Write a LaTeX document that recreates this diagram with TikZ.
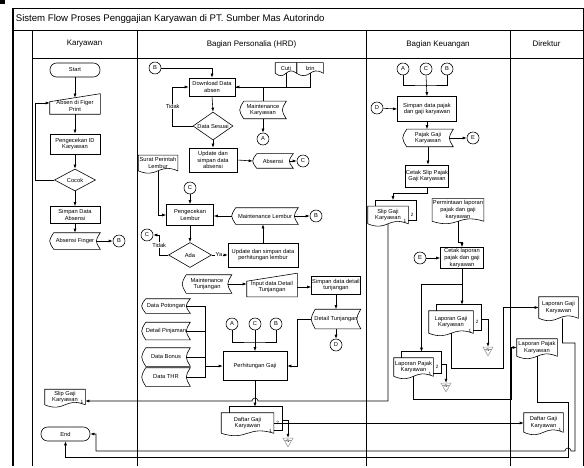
\documentclass[tikz,border=0pt]{standalone}
\usepackage{fontspec}
\setmainfont{Liberation Sans}
\usetikzlibrary{arrows.meta,positioning,shapes.geometric,calc}

\begin{document}
\begin{tikzpicture}[x=0.3mm, y=-0.3mm, >={Latex[length=1.2mm,width=0.9mm]},
    line width=0.5pt,
    every node/.style={font=\fontsize{4.9}{5.7}\selectfont, align=center, inner sep=0.5pt},
    sz/.style 2 args={minimum width=#1*0.3mm, minimum height=#2*0.3mm},
    proc/.style={draw, rectangle},
    term/.style={draw, rectangle, rounded corners=2mm},
    decide/.style={draw, diamond, aspect=1.6, inner sep=0pt},
    con/.style={draw, circle, minimum size=3.6mm, inner sep=0pt},
    offl/.style={draw=gray!80, regular polygon, regular polygon sides=3,
        shape border rotate=180, minimum size=3.5mm, inner sep=0pt,
        font=\fontsize{3.4}{4}\selectfont},
    copyno/.style={font=\fontsize{4}{4}\selectfont, inner sep=0pt},
    lanehead/.style={font=\fontsize{6.8}{8}\selectfont},
]
\useasboundingbox (0,0) rectangle (584,468);

% pool and lanes
\fill (0,0) rectangle (5,4);
\draw (13,8) -- (583,8) -- (583,466);
\draw[line width=0.9pt] (13,8) -- (13,466);
\draw (13,30) -- (583,30);
\draw (32,58) -- (583,58);
\foreach \x in {32,137,366,510}
    \draw (\x,30) -- (\x,466);
\node[anchor=west, font=\fontsize{8.2}{10}\selectfont] (title) at (15,19)
    {Sistem Flow Proses Penggajian Karyawan di PT. Sumber Mas Autorindo};
\node[lanehead] (hkar) at (84.5,44) {Karyawan};
\node[lanehead] (hhrd) at (251.5,44) {Bagian Personalia (HRD)};
\node[lanehead] (hkeu) at (438,44) {Bagian Keuangan};
\node[lanehead] (hdir) at (546.5,44) {Direktur};

% karyawan
\node[term, sz={50}{14}] (start) at (75,70) {Start};
\node[sz={50}{16}] (absen) at (75,106) {Absen di Figer\\Print};
\node[proc, sz={50}{20}] (cekid) at (75,144) {Pengecekan ID\\Karyawan};
\node[decide, sz={41}{22}] (cocok) at (75,180) {Cocok};
\node[proc, sz={50}{17}] (simpanabs) at (75,215) {Simpan Data\\Absensi};
\node[sz={50}{16}] (absfinger) at (75,241) {Absensi Finger};
\node[con] (cB1) at (119,241) {B};
\node[sz={40}{15}] (slipkar) at (65,397) {Slip Gaji\\Karyawan};
\node[term, sz={49}{14}] (endt) at (65.5,434) {End};

% personalia
\node[con] (cB2) at (155,68) {B};
\node[proc, sz={46}{18}] (download) at (212,87) {Download Data\\absen};
\node[decide, sz={40}{28}] (sesuai) at (213,126) {Data Sesuai};
\node[proc, sz={48}{24}] (updabs) at (213,160) {Update dan\\simpan data\\absensi};
\node[sz={40}{14}] (absensi) at (273,161) {Absensi};
\node[con] (cC1) at (303,161) {C};
\node[sz={21}{10}] (cuti) at (286,68) {Cuti};
\node[sz={26}{10}] (izin) at (310,68) {Izin};
\node[sz={46}{17}] (mkary) at (263,110) {Maintenance\\Karyawan};
\node[con] (cA1) at (263,139) {A};
\node[sz={39}{15}] (spl) at (158,163) {Surat Perintah\\Lembur};
\node[con] (cC2) at (190,188) {C};
\node[proc, sz={47}{21}] (ceklembur) at (190,215) {Pengecekan\\Lembur};
\node[sz={66}{16}] (mlembur) at (265,216) {Maintenance Lembur};
\node[con] (cB3) at (316,216) {B};
\node[decide, sz={43}{25}] (ada) at (190,255) {Ada};
\node[con] (cC3) at (147,235) {C};
\node[proc, sz={70}{24}] (updlembur) at (263,255) {Update dan simpan data\\perhitungan lembur};
\node[sz={49}{18}] (mtunj) at (207,284) {Maintenance\\Tunjangan};
\node[sz={50}{19}] (inputtunj) at (272,287) {Input data Detail\\Tunjangan};
\node[proc, sz={49}{18}] (simpantunj) at (336,285) {Simpan data detail\\tunjangan};
\node[sz={49}{19}] (dettunj) at (336,319) {Detail Tunjangan};
\node[con] (cD1) at (336,345) {D};
\node[sz={48}{14}] (dpot) at (166,306) {Data Potongan};
\node[sz={48}{17}] (dpinj) at (166,331) {Detail Pinjaman};
\node[sz={48}{18}] (dbonus) at (166,357) {Data Bonus};
\node[sz={48}{18}] (dthr) at (166,377) {Data THR};
\node[con] (cA2) at (232,324) {A};
\node[con] (cC4) at (255,324) {C};
\node[con] (cB4) at (276,324) {B};
\node[proc, sz={64}{29}] (hitung) at (255,366) {Perhitungan Gaji};
\node[sz={52}{20}] (daftar) at (247.5,423) {Daftar Gaji\\Karyawan};
\node[offl] (nA) at (288,441) {N};

% keuangan
\node[con] (cA3) at (403,69) {A};
\node[con] (cC5) at (426,69) {C};
\node[con] (cB5) at (447,69) {B};
\node[con] (cD2) at (377,108) {D};
\node[proc, sz={59}{25}] (simpanpajak) at (427,109) {Simpan data pajak\\dan gaji karyawan};
\node[sz={50}{17}] (pajakgaji) at (428,138) {Pajak Gaji\\Karyawan};
\node[con] (cE1) at (473,138) {E};
\node[proc, sz={43}{22}] (cetakslip) at (427,176) {Cetak Slip Pajak\\Gaji Karyawan};
\node[sz={40}{17}] (slipkeu) at (388,215) {Slip Gaji\\Karyawan};
\node[sz={51}{22}] (minta) at (458,210) {Permintaan laporan\\pajak dan gaji\\karyawan};
\node[con] (cE2) at (420,258) {E};
\node[proc, sz={43}{21}] (cetaklap) at (462,258) {Cetak laporan\\pajak dan gaji\\karyawan};
\node[sz={44}{22}] (lapgajikeu) at (451,322) {Laporan Gaji\\Karyawan};
\node[offl] (nB) at (488,350) {N};
\node[sz={39}{18}] (lappajakkeu) at (413.5,367) {Laporan Pajak\\Karyawan};
\node[offl] (nC) at (446,386) {N};

% direktur
\node[sz={39}{21}] (lapgajidir) at (558.5,307.5) {Laporan Gaji\\Karyawan};
\node[sz={40}{17}] (lappajakdir) at (537,347.5) {Laporan Pajak\\Karyawan};
\node[sz={39}{19}] (daftardir) at (543.5,422.5) {Daftar Gaji\\Karyawan};

% copy numbers
\foreach \n in {slipkar,daftar,slipkeu,lapgajikeu,lappajakkeu,daftardir}
    \node[copyno, anchor=south east] (\n-one) at ([xshift=-0.5mm,yshift=0.3mm]\n.south east) {1};
\foreach \n in {daftar,slipkeu,lapgajikeu,lappajakkeu}
    \node[copyno] (\n-two) at ([xshift=1.2mm]\n.east) {2};

% outlines of stored data, documents, manual input, offline storage
\foreach \n in {absfinger,absensi,mkary,mlembur,mtunj,dettunj,dpot,dpinj,dbonus,dthr,pajakgaji}
    \draw ([xshift=1.2mm]\n.north west) -- (\n.north east)
        .. controls ([xshift=-1.6mm]\n.east) .. (\n.south east)
        -- ([xshift=1.2mm]\n.south west)
        .. controls ([xshift=-0.4mm]\n.west) .. ([xshift=1.2mm]\n.north west);
\foreach \n in {cuti,izin,spl,slipkar,minta,lapgajidir,lappajakdir,daftardir,daftar,slipkeu,lapgajikeu,lappajakkeu}
    \draw (\n.south west) -- (\n.north west) -- (\n.north east) -- (\n.south east)
        .. controls ([yshift=2.5mm]\n.south) and ([yshift=-2.5mm]\n.south) .. (\n.south west);
\foreach \n in {daftar,slipkeu,lapgajikeu,lappajakkeu}
    \draw ([xshift=2.4mm]\n.north west) -- ([xshift=2.4mm,yshift=1.8mm]\n.north west)
        -- ([xshift=2.4mm,yshift=1.8mm]\n.north east) -- ([xshift=2.4mm,yshift=1mm]\n.south east)
        -- ([yshift=1mm]\n.south east);
\foreach \n in {absen,inputtunj}
    \draw (\n.south west) -- ([yshift=-1.2mm]\n.north west) -- ([yshift=1.2mm]\n.north east)
        -- (\n.south east) -- cycle;
\foreach \n in {nA,nB,nC}
    \draw[gray!80] ($(\n.corner 2)!0.22!(\n.corner 1)$) -- ($(\n.corner 3)!0.22!(\n.corner 1)$);

% karyawan flow
\draw[->] (start.south) -- (absen.north);
\draw[->] (absen.south) -- (cekid.north);
\draw[->] (cekid.south) -- (cocok.north);
\draw[->] (cocok.west) -- ++(-19,0) |- ([yshift=0.9mm]absen.west);
\draw[->] (cocok.south) -- (simpanabs.north);
\draw[->] (simpanabs.south) -- (absfinger.north);
\draw[->] ([xshift=-1.2mm]absfinger.east) -- (cB1);

% personalia flow
\draw[->] (cB2.east) -| (download.north);
\draw[->] (download.south) -- (sesuai.north);
\draw[->] (sesuai.west) -- ++(-20,0) |- node[pos=0.25, fill=white] (tidak1) {Tidak} (download.west);
\draw[->] (sesuai.south) -- (updabs.north);
\draw[->] (updabs.east) -- (absensi.west);
\draw[->] ([xshift=-1.2mm]absensi.east) -- (cC1);
\draw[->] (cuti.south) |- (download.east);
\draw (izin.south) |- (download.east);
\draw (mkary.north) -- (mkary.north |- download.east);
\draw[->] (mkary.south) -- (cA1);
\draw[->] (spl.south) |- (ceklembur.west);
\draw[->] (cC2) -- (ceklembur.north);
\draw[->] (mlembur.west) -- (mlembur.west -| ceklembur.east);
\draw[->] ([xshift=-1.2mm]mlembur.east) -- (cB3);
\draw[->] (ceklembur.south) -- (ada.north);
\draw[->] (ada.west) -- ++(-9,0) |- node[pos=0.25, fill=white] (tidak2) {Tidak} (cC3.east);
\draw[->] (ada.east) -- node[pos=0.45, fill=white] (ya) {Ya} (updlembur.west);
\draw[->] (updlembur.north) -- (updlembur.north |- mlembur.south);
\draw[->] ([xshift=-1.2mm]mtunj.east) -- (mtunj.east -| inputtunj.west);
\draw[->] (inputtunj.east) -- (inputtunj.east -| simpantunj.west);
\draw[->] (simpantunj.south) -- (dettunj.north);
\draw[->] (dettunj.south) -- (cD1);
\draw[->] (dettunj.west) -- ++(-14,0) |- (hitung.east);
\coordinate (join) at (205,366);
\foreach \d in {dpot,dpinj,dbonus,dthr}
    \draw ([xshift=-1.2mm]\d.east) -| (join);
\draw[->] (join) -- (hitung.west);
\coordinate (acb) at (255,342);
\draw (cA2.south) |- (acb) -| (cB4.south);
\draw[->] (cC4.south) -- (hitung.north);
\draw[->] (hitung.south) -- ([yshift=1.8mm]hitung.south |- daftar.north);
\draw[->] (daftar.east) -- (daftar.east -| daftardir.west);
\draw[->] ([xshift=2.4mm,yshift=0.9mm]daftar.east) -| (nA);

% keuangan flow
\coordinate (acb2) at (426,85);
\draw (cA3.south) |- (acb2) -| (cB5.south);
\draw[->] (cC5.south) -- (simpanpajak.north);
\draw[->] (cD2) -- (simpanpajak.west);
\draw[->] (simpanpajak.south) -- (simpanpajak.south |- pajakgaji.north);
\draw[->] ([xshift=-1.2mm]pajakgaji.east) -- (cE1);
\draw[->] (pajakgaji.south) -- (pajakgaji.south |- cetakslip.north);
\draw[->] (cetakslip.south) -- ++(0,6) -| ([xshift=1.5mm,yshift=1.8mm]slipkeu.north);
\draw[->] (minta.south) -- ++(0,21) -| (cetaklap.north);
\draw[->] (cE2) -- (cetaklap.west);
\draw[->] (cetaklap.south) -- ++(0,15) -| ([xshift=2.4mm,yshift=1.8mm]lappajakkeu.north);
\draw[->] (cetaklap.south) -- ([yshift=1.8mm]cetaklap.south |- lapgajikeu.north);
\draw[->] ([xshift=2.4mm,yshift=0.9mm]lapgajikeu.east) -| (nB);
\draw[->] (lapgajikeu.south) |- (503,368) |- (lapgajidir.west);
\draw[->] ([xshift=2.4mm,yshift=0.9mm]lappajakkeu.east) -| (nC);
\draw[->] (lappajakkeu.south) |- (511,399) |- (lappajakdir.west);
\draw[->] (slipkeu.south) -- (slipkeu.south |- 0,401) -- (258,401)
    arc[start angle=0, end angle=180, radius=0.9mm] -- (slipkar.east |- 0,401);

% direktur back to end
\draw[->] ([xshift=1.2mm]lapgajidir.south) |- (575,343) -- (575,451) -- (571,451)
    arc[start angle=0, end angle=180, radius=0.9mm] -- (96,451) |- (endt.east);
\draw[->] (lappajakdir.south) |- (568,402) -- (568,457) -| (endt.south);
\end{tikzpicture}
\end{document}
